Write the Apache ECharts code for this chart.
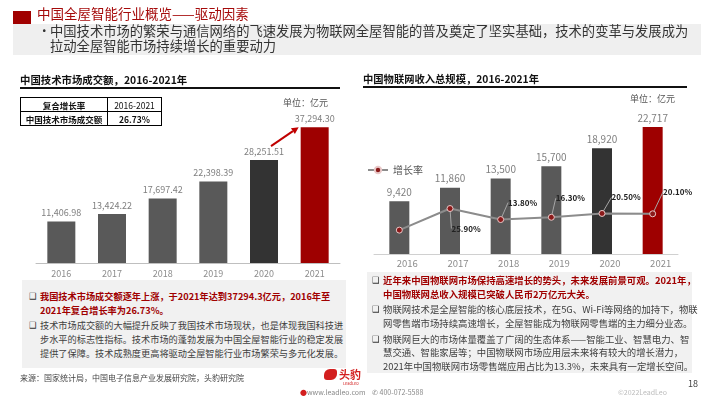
<!DOCTYPE html>
<html>
<head>
<meta charset="utf-8">
<script src="https://cdn.jsdelivr.net/npm/echarts@6/dist/echarts.min.js"></script>
<style>
body{margin:0;}
#page{position:relative;width:710px;height:399px;overflow:hidden;background:#fff;font-family:"Noto Sans CJK SC","Noto Sans",sans-serif;color:#404040;}
#chart{position:absolute;left:0;top:0;width:710px;height:399px;}
.abs{position:absolute;white-space:nowrap;}
.box{position:absolute;background:#f1f1f1;}
.bl{position:absolute;font-size:9.4px;line-height:13.6px;color:#404040;white-space:nowrap;}
.bl p{margin:0 0 2.2px 0;padding-left:11px;position:relative;}
.bl p:before{content:"\2751";position:absolute;left:0;top:0;font-family:"DejaVu Sans";font-size:8.5px;color:#333;}
.red{color:#a00000;font-weight:bold;}
table{border-collapse:collapse;font-size:8.5px;}
td{border:1px solid #000;text-align:center;height:13px;padding:0;color:#111;}
</style>
</head>
<body>
<div id="page">
  <div id="chart"></div>
  <div class="abs" style="left:13px;top:11px;width:18px;height:15px;background:#a00000;"></div>
  <div class="abs" style="left:37px;top:3px;font-size:13.5px;color:#a50a0a;">中国全屋智能行业概览——驱动因素</div>
  <div class="box" style="left:13px;top:24px;width:688px;height:31px;background:#efefef;"></div>
  <div class="abs" style="left:38px;top:25px;font-size:12.5px;line-height:12.5px;color:#333;">•</div>
  <div class="abs" style="left:50px;top:24px;font-size:13.3px;line-height:14.5px;color:#333;">中国技术市场的繁荣与通信网络的飞速发展为物联网全屋智能的普及奠定了坚实基础，技术的变革与发展成为<br>拉动全屋智能市场持续增长的重要动力</div>

  <div class="abs" style="left:20px;top:72px;font-size:10.4px;font-weight:bold;color:#111;">中国技术市场成交额，2016-2021年</div>
  <div class="abs" style="left:20px;top:87px;width:320px;height:1.5px;background:#111;"></div>
  <table class="abs" style="left:20px;top:97px;width:142px;">
    <tr><td style="width:86px;font-weight:bold;">复合增长率</td><td>2016-2021</td></tr>
    <tr><td style="font-weight:bold;">中国技术市场成交额</td><td style="font-weight:bold;">26.73%</td></tr>
  </table>
  <div class="abs" style="left:283px;top:96px;font-size:9px;color:#555;">单位：亿元</div>

  <div class="abs" style="left:363px;top:71px;font-size:10.3px;font-weight:bold;color:#111;">中国物联网收入总规模，2016-2021年</div>
  <div class="abs" style="left:363px;top:86px;width:324px;height:1.5px;background:#111;"></div>
  <div class="abs" style="left:630px;top:92px;font-size:9px;color:#555;">单位：亿元</div>

  <div class="box" style="left:22px;top:280px;width:324px;height:88px;"></div>
  <div class="bl" style="left:29px;top:290px;font-size:9.2px;">
    <p class="red">我国技术市场成交额逐年上涨，于2021年达到37294.3亿元，2016年至<br>2021年复合增长率为26.73%。</p>
    <p>技术市场成交额的大幅提升反映了我国技术市场现状，也是体现我国科技进<br>步水平的标志性指标。技术市场的蓬勃发展为中国全屋智能行业的稳定发展<br>提供了保障。技术成熟度更高将驱动全屋智能行业市场繁荣与多元化发展。</p>
  </div>
  <div class="box" style="left:367px;top:272px;width:325px;height:101px;"></div>
  <div class="bl" style="left:372px;top:274px;">
    <p class="red">近年来中国物联网市场保持高速增长的势头，未来发展前景可观。2021年，<br>中国物联网总收入规模已突破人民币2万亿元大关。</p>
    <p>物联网技术是全屋智能的核心底层技术，在5G、Wi-Fi等网络的加持下，物联<br>网零售端市场持续高速增长，全屋智能成为物联网零售端的主力细分业态。</p>
    <p>物联网巨大的市场体量覆盖了广阔的生态体系——智能工业、智慧电力、智<br>慧交通、智能家居等；中国物联网市场应用层未来将有较大的增长潜力，<br>2021年中国物联网市场零售端应用占比为13.3%，未来具有一定增长空间。</p>
  </div>

  <div class="abs" style="left:20px;top:372px;font-size:8px;color:#444;">来源：国家统计局，中国电子信息产业发展研究院，头豹研究院</div>
  <div class="abs" style="left:324px;top:369px;width:13px;height:11px;background:#d31f1f;border-radius:6px 3px 6px 3px;"></div>
  <div class="abs" style="left:339px;top:366px;font-size:11px;font-weight:bold;color:#d31f1f;">头豹</div>
  <div class="abs" style="left:343px;top:380px;font-size:4px;color:#d31f1f;">LeadLeo</div>
  <div class="abs" style="left:300px;top:387px;font-size:7px;color:#d31f1f;">●</div>
  <div class="abs" style="left:307px;top:387px;font-size:7px;color:#888;">www.leadleo.com</div>
  <div class="abs" style="left:372px;top:387px;font-size:7px;color:#888;">✆ 400-072-5588</div>
  <div class="abs" style="left:618px;top:387px;font-size:7px;color:#bbb;">©2022LeadLeo</div>
  <div class="abs" style="left:688px;top:377px;font-size:9px;color:#444;">18</div>
</div>
<script>
const years = ['2016', '2017', '2018', '2019', '2020', '2021'];
const techValues = [11406.98, 13424.22, 17697.42, 22398.39, 28251.51, 37294.30];
const iotValues = [9420, 11860, 13500, 15700, 18920, 22717];
const growthRates = [2.2, 25.9, 13.8, 16.3, 20.5, 20.1];

// styling kept apart from the data
const barColors = ['#595959', '#595959', '#595959', '#595959', '#333333', '#9e0000'];
const growthLabelOffsets = [[0, 0], [16, 20], [22, -17], [19, -19], [24, -16], [25, -22]];

const chart = echarts.init(document.getElementById('chart'));
const font = '"Noto Sans CJK SC", "Liberation Sans", sans-serif';

const option = {
  animation: false,
  textStyle: { fontFamily: font },
  grid: [
    { left: 36, top: 110, width: 304, height: 153 },
    { left: 374, top: 110, width: 304, height: 144 }
  ],
  legend: {
    left: 362, top: 160,
    itemWidth: 20, itemHeight: 8, itemGap: 4,
    textStyle: { color: '#555', fontSize: 10 },
    data: ['增长率']
  },
  xAxis: [
    {
      gridIndex: 0, type: 'category', data: years,
      axisTick: { show: false },
      axisLine: { lineStyle: { color: '#bfbfbf' } },
      axisLabel: { color: '#8c8c8c', fontSize: 9, margin: 6 }
    },
    {
      gridIndex: 1, type: 'category', data: years,
      axisTick: { show: false },
      axisLine: { lineStyle: { color: '#d0d0d0' } },
      axisLabel: { color: '#8c8c8c', fontSize: 9.5, margin: 5, padding: [0, 0, 0, 16] }
    }
  ],
  yAxis: [
    { gridIndex: 0, type: 'value', min: 0, max: 42000, show: false },
    { gridIndex: 1, type: 'value', min: 0, max: 25760, show: false },
    { gridIndex: 1, type: 'value', min: -24, max: 134, show: false }
  ],
  series: [
    {
      type: 'bar', xAxisIndex: 0, yAxisIndex: 0,
      data: techValues, barWidth: 28,
      itemStyle: { color: p => barColors[p.dataIndex] },
      label: {
        show: true, position: 'top', distance: 4,
        color: '#7f7f7f', fontSize: 9,
        formatter: p => p.value.toLocaleString('en-US', { minimumFractionDigits: 2, maximumFractionDigits: 2 })
      }
    },
    {
      type: 'bar', xAxisIndex: 1, yAxisIndex: 1,
      data: iotValues, barWidth: 20,
      itemStyle: { color: p => barColors[p.dataIndex] },
      label: {
        show: true, position: 'top', distance: 4,
        color: '#7f7f7f', fontSize: 10,
        formatter: p => p.value.toLocaleString('en-US')
      }
    },
    {
      name: '增长率', type: 'line', xAxisIndex: 1, yAxisIndex: 2,
      data: growthRates.map((v, i) => i === 0 ? { value: v, label: { show: false }, labelLine: { show: false } } : v),
      symbol: 'circle', symbolSize: 6,
      lineStyle: { color: '#8c8c8c', width: 2 },
      itemStyle: { color: '#8b1a1a', borderColor: '#e8c8c8', borderWidth: 1 },
      label: {
        show: true, position: 'inside',
        color: '#222', fontSize: 8, fontWeight: 'bold',
        formatter: p => p.value.toFixed(2) + '%'
      },
      labelLine: { show: true, lineStyle: { color: '#a6a6a6', width: 1 } },
      labelLayout: p => ({ dx: growthLabelOffsets[p.dataIndex][0], dy: growthLabelOffsets[p.dataIndex][1] })
    }
  ]
};
chart.setOption(option);

// red arrow from the 2020 label toward the 2021 label
const a = chart.convertToPixel({ gridIndex: 0 }, [4, techValues[4]]);
const b = chart.convertToPixel({ gridIndex: 0 }, [5, techValues[5]]);
const x1 = a[0] + 7, y1 = a[1] - 14, x2 = b[0] - 16, y2 = b[1];
const ang = Math.atan2(y2 - y1, x2 - x1);
const hl = 7, hw = 3.5;
const bx = x2 - hl * Math.cos(ang), by = y2 - hl * Math.sin(ang);
chart.setOption({
  graphic: [
    { type: 'line', shape: { x1: x1, y1: y1, x2: bx, y2: by }, style: { stroke: '#c00000', lineWidth: 2 } },
    {
      type: 'polygon',
      shape: { points: [[x2, y2], [bx - hw * Math.sin(ang), by + hw * Math.cos(ang)], [bx + hw * Math.sin(ang), by - hw * Math.cos(ang)]] },
      style: { fill: '#c00000' }
    }
  ]
});
</script>
</body>
</html>
